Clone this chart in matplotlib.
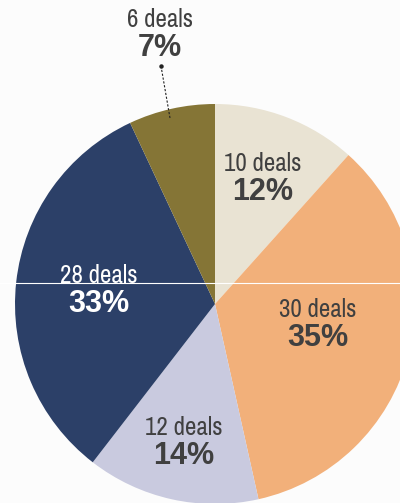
import matplotlib.pyplot as plt
from matplotlib import font_manager

# deal counts per segment, clockwise from 12 o'clock
deals = [10, 30, 12, 28, 6]
colors = ['#e9e3d3', '#f2b07a', '#c9cadf', '#2c4068', '#857536']
text_colors = ['#404040', '#404040', '#404040', '#ffffff', '#404040']

# baseline of the "deals" line for each label (data units, pie radius = 1)
label_xy = [(0.24, 0.665), (0.515, -0.065), (-0.155, -0.655), (-0.58, 0.105), (-0.275, 1.385)]
line_gap = 0.145

# prefer a regular-weight narrow face for the "deals" line if one is around
narrow = None
for f in sorted(font_manager.fontManager.ttflist, key=lambda f: f.name):
    condensed = 'Narrow' in f.name or f.stretch in ('condensed', 'semi-condensed')
    if condensed and f.weight in (300, 400, 'normal', 'light') and f.style == 'normal':
        narrow = font_manager.FontProperties(fname=f.fname)
        break
if narrow is None:
    narrow = font_manager.FontProperties(family='Liberation Sans')
narrow.set_size(18)

bold = font_manager.FontProperties(family='Liberation Sans', weight='bold', size=22)

fig = plt.figure(figsize=(4.0, 5.03), dpi=100)
fig.patch.set_facecolor('#fcfcfc')
ax = fig.add_axes([0, 0, 1, 1])
ax.set_facecolor('#fcfcfc')

ax.pie(deals, colors=colors, startangle=90, counterclock=False,
       radius=1.0, wedgeprops=dict(linewidth=0))

total = sum(deals)
for n, (x, y), tc in zip(deals, label_xy, text_colors):
    pct = round(100.0 * n / total)
    ax.text(x, y, '{0} deals'.format(n), ha='center', va='baseline',
            fontproperties=narrow, color=tc)
    ax.text(x, y - line_gap, '{0}%'.format(pct), ha='center', va='baseline',
            fontproperties=bold, color=tc)

# dotted leader for the small slice
ax.plot([-0.27, -0.225], [1.19, 0.93], color='#222222', lw=0.8, ls=(0, (2, 1.5)))
ax.plot([-0.27], [1.19], marker='o', ms=2.2, color='#222222')

# thin white rule across the chart
ax.axhline(0.105, color='white', lw=0.8)

ax.set_xlim(-1.075, 0.925)
ax.set_ylim(-0.995, 1.52)
ax.set_aspect('equal')
ax.axis('off')

fig.savefig('out.png', dpi=100, facecolor=fig.get_facecolor())
